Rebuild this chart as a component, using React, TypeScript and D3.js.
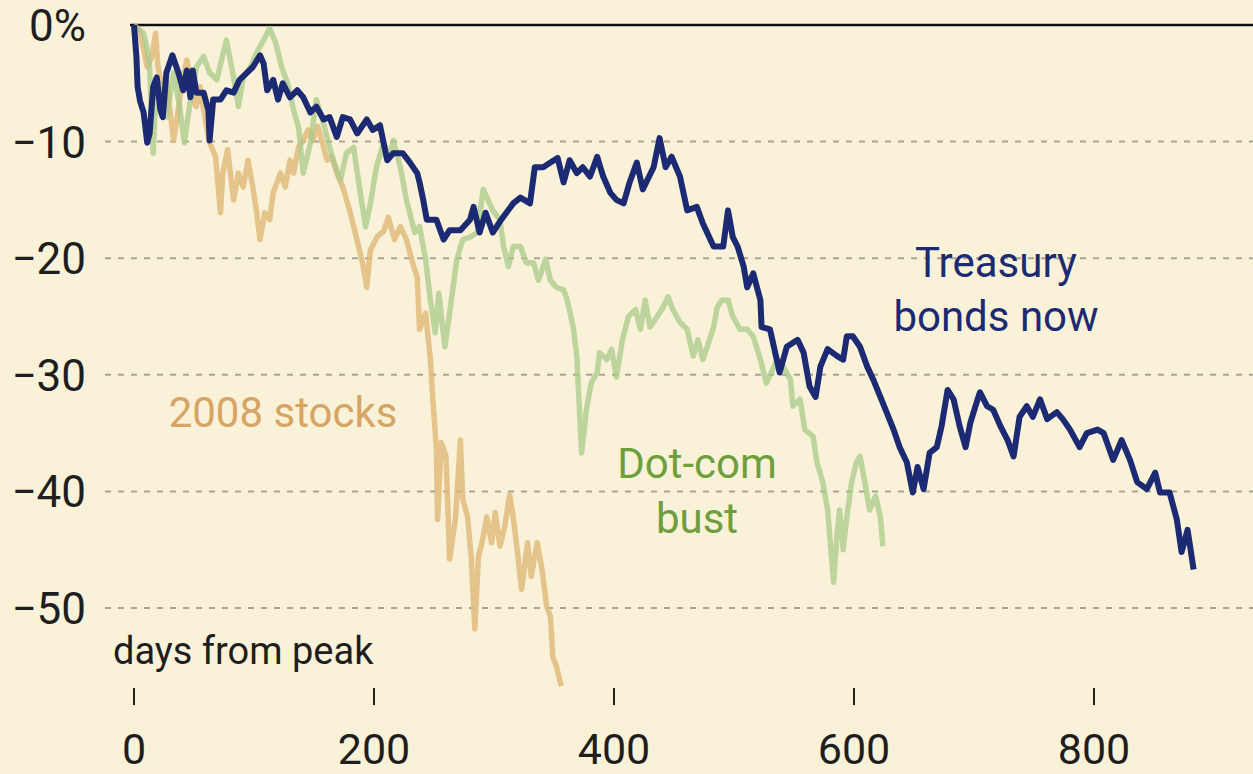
import React from 'react';
import * as d3 from 'd3';

// [days from peak, % change from peak]
const treasury: [number, number][] = [
  [0,0],[2,-2.7],[3,-5.3],[5,-6.5],[8,-7.5],[11,-10.1],[13,-9.3],[16,-5.3],[19,-4.5],[22,-7.3],[24,-7.9],[27,-4.1],[32,-2.6],[37,-4.1],[41,-5.6],[44,-3.9],[47,-6.2],[49,-3.9],[52,-5.8],[58,-5.8],[62,-7.3],[63,-9.9],[66,-6.4],[72,-6.4],[77,-5.6],[83,-5.8],[88,-4.7],[94,-4.1],[99,-3.6],[105,-2.6],[108,-3.3],[111,-5.6],[116,-4.7],[120,-6.4],[124,-5],[130,-6.2],[136,-5.6],[141,-6.2],[147,-7.5],[152,-7],[158,-8.1],[163,-7.9],[169,-9.6],[174,-7.9],[180,-8.1],[186,-9.3],[194,-8.1],[199,-9],[205,-8.6],[211,-11.6],[216,-11],[224,-11],[230,-11.8],[236,-12.7],[238,-13.5],[241,-15],[244,-16.7],[252,-16.7],[258,-18.4],[263,-17.6],[272,-17.6],[280,-16.7],[283,-15.6],[288,-17.8],[293,-16.1],[299,-17.8],[306,-16.7],[316,-15.3],[322,-14.8],[330,-15.3],[334,-12.2],[341,-12.2],[347,-11.8],[353,-11.4],[358,-13.5],[363,-11.6],[369,-12.7],[374,-12.2],[380,-13],[386,-11.3],[391,-13],[397,-14.4],[402,-15],[408,-15.3],[413,-13.5],[419,-11.8],[424,-14.1],[433,-12.2],[438,-9.7],[443,-12.2],[448,-11.3],[455,-13],[461,-15.9],[469,-15.6],[474,-17],[483,-19],[491,-19],[495,-15.9],[499,-18.2],[503,-19],[508,-20.7],[511,-22.5],[516,-21.3],[522,-23.6],[523,-25.9],[530,-26.1],[538,-29.8],[544,-27.6],[553,-27],[558,-28.1],[563,-31],[568,-31.9],[572,-29.3],[578,-27.8],[586,-28.4],[591,-28.7],[594,-26.7],[599,-26.7],[605,-27.6],[611,-29.3],[616,-30.4],[624,-32.4],[633,-34.7],[638,-36.2],[644,-37.5],[649,-40.1],[653,-37.9],[658,-39.8],[663,-36.7],[669,-36.2],[673,-34.4],[678,-31.3],[683,-32.1],[688,-34.4],[693,-36.2],[697,-34.1],[703,-32.1],[705,-31.5],[711,-32.7],[716,-33],[722,-34.4],[728,-35.6],[733,-37],[738,-33.6],[744,-32.7],[749,-33.6],[755,-32.1],[761,-33.8],[769,-33.2],[774,-33.8],[780,-34.7],[788,-36.2],[794,-35],[803,-34.7],[808,-35],[816,-37.3],[823,-35.6],[830,-37.3],[836,-39.2],[844,-39.8],[851,-38.4],[855,-40.1],[863,-40.1],[869,-42.4],[873,-45.2],[878,-43.3],[883,-46.7]
];

const stocks2008: [number, number][] = [
  [0,0],[2,-0.2],[5,-0.7],[8,-2.1],[11,-3.6],[15,-2.7],[18,-0.7],[20,-3.6],[24,-5.8],[27,-5],[30,-7.3],[33,-9.9],[36,-7.9],[40,-5],[44,-3],[47,-4.5],[49,-6.4],[52,-7],[55,-5.3],[59,-7.9],[63,-10.1],[68,-11.3],[72,-16.1],[74,-12.7],[78,-10.7],[83,-15],[87,-12.7],[91,-13.9],[95,-11.6],[99,-13.9],[102,-15.9],[105,-18.4],[109,-16.1],[113,-16.7],[116,-14.4],[122,-12.7],[126,-13.9],[130,-11.6],[133,-12.7],[137,-10.5],[141,-9.9],[145,-9],[149,-9.9],[153,-8.7],[157,-10.1],[161,-11.6],[165,-11.3],[169,-12.7],[174,-13.9],[180,-16],[186,-18.5],[191,-20.7],[194,-22.5],[197,-19.3],[203,-18.1],[208,-17.7],[212,-16.5],[217,-18.4],[222,-17.3],[227,-18.4],[233,-20.7],[236,-21.6],[238,-26.1],[243,-24.7],[247,-28.7],[249,-32.1],[252,-36.4],[253,-42.4],[256,-35.8],[260,-37],[263,-45.8],[268,-42.2],[272,-35.6],[274,-40.7],[278,-42.2],[281,-45.6],[284,-51.8],[287,-45.6],[290,-44.4],[294,-42.2],[298,-44.4],[301,-41.8],[305,-44.7],[309,-43],[313,-40.3],[316,-42.2],[319,-44.7],[323,-48.4],[328,-44.4],[331,-47.3],[336,-44.4],[340,-46.7],[344,-49.9],[347,-50.7],[349,-54.2],[352,-55],[356,-56.7]
];

const dotCom: [number, number][] = [
  [0,0],[3,-0.3],[8,-0.7],[11,-2.1],[13,-3.6],[16,-11],[18,-6.4],[21,-5],[24,-6.7],[27,-7.9],[33,-4.1],[38,-7],[42,-10.1],[47,-6.4],[52,-3.6],[58,-2.7],[63,-4.1],[69,-4.7],[77,-1.3],[83,-4.5],[87,-7],[91,-4.5],[97,-3.6],[102,-2.4],[108,-1.3],[113,-0.3],[118,-1.5],[123,-3.6],[128,-5],[133,-7.3],[137,-8.7],[141,-12.7],[147,-10.1],[152,-6.4],[157,-8.1],[162,-10.1],[166,-11.6],[172,-13.3],[177,-11],[183,-10.5],[188,-14],[193,-17.3],[197,-15.3],[202,-12.2],[208,-10.1],[213,-11.3],[216,-9.9],[222,-12.2],[227,-15],[234,-17.8],[238,-17.3],[243,-20.1],[247,-23.6],[251,-26.4],[254,-23],[259,-27.6],[263,-24.7],[269,-20.1],[274,-18.4],[280,-18.2],[286,-17.8],[291,-14.1],[295,-15],[299,-15.9],[305,-16.7],[308,-19],[312,-20.7],[316,-19],[322,-19],[327,-20.4],[333,-20.4],[337,-21.9],[343,-20.1],[347,-21.9],[352,-22.5],[358,-22.7],[361,-23.6],[366,-25.9],[369,-28.4],[373,-36.7],[377,-33],[381,-30.7],[386,-29.8],[388,-28.1],[394,-28.7],[398,-27.8],[402,-30.2],[407,-27],[412,-25],[418,-24.4],[422,-26.1],[426,-23.6],[430,-25.9],[436,-25],[441,-24.2],[445,-23.3],[449,-24.4],[455,-25.5],[461,-26.1],[466,-28.4],[470,-27],[474,-28.7],[479,-27.2],[483,-25.9],[486,-24.2],[490,-23.6],[495,-23.6],[499,-25],[505,-26.1],[511,-26.1],[516,-26.7],[522,-28.7],[527,-30.7],[532,-29.6],[536,-28.7],[541,-29.3],[547,-30.4],[549,-32.7],[555,-32.1],[559,-34.7],[566,-35.3],[569,-37.5],[574,-39.2],[578,-41.6],[583,-47.8],[586,-43.5],[588,-41.6],[591,-45],[594,-42.2],[598,-39.2],[602,-37.5],[605,-37],[609,-39.2],[613,-41.6],[618,-40.4],[622,-42.2],[624,-44.7]
];

const yTicks = [0, -10, -20, -30, -40, -50];
const xTicks = [0, 200, 400, 600, 800];

const W = 1253;
const H = 774;
const font = 'Roboto, "Noto Sans", sans-serif';

export default function App() {
  const x = d3.scaleLinear().domain([0, 800]).range([134, 1094]);
  const y = d3.scaleLinear().domain([0, -50]).range([25, 608]);
  const line = d3.line<[number, number]>()
    .x(d => x(d[0]))
    .y(d => y(d[1]));

  return (
    <div style={{ position: 'fixed', left: 0, top: 0, width: W, height: H }}>
      <svg width={W} height={H} style={{ display: 'block' }}>
        <rect width={W} height={H} fill="#f9f2d8" />
        {yTicks.filter(t => t !== 0).map(t => (
          <line key={t} x1={105} x2={W} y1={y(t)} y2={y(t)}
            stroke="#a9a496" strokeWidth={2} strokeDasharray="6,7" />
        ))}
        {yTicks.map(t => (
          <text key={'l' + t} x={86} y={y(t) + 16} textAnchor="end"
            fontFamily={font} fontSize={44} fill="#1e1e1e">
            {t === 0 ? '0%' : '\u2212' + Math.abs(t)}
          </text>
        ))}
        <line x1={130} x2={W} y1={y(0)} y2={y(0)} stroke="#111" strokeWidth={2.5} />

        <path d={line(stocks2008) || ''} fill="none" stroke="#e0b878" strokeOpacity={0.8}
          strokeWidth={5.5} strokeLinejoin="round" />
        <path d={line(dotCom) || ''} fill="none" stroke="#a9c98a" strokeOpacity={0.75}
          strokeWidth={5.5} strokeLinejoin="round" />
        <path d={line(treasury) || ''} fill="none" stroke="#1b2a72"
          strokeWidth={6} strokeLinejoin="round" />

        {xTicks.map(t => (
          <g key={'x' + t}>
            <line x1={x(t)} x2={x(t)} y1={688} y2={705} stroke="#222" strokeWidth={2} />
            <text x={x(t)} y={764} textAnchor="middle" fontFamily={font} fontSize={43} fill="#1e1e1e">
              {t}
            </text>
          </g>
        ))}
        <text x={113} y={664} fontFamily={font} fontSize={38} fill="#1e1e1e">days from peak</text>

        <text x={283} y={427} textAnchor="middle" fontFamily={font} fontSize={42} fill="#d7a463">2008 stocks</text>
        <text textAnchor="middle" fontFamily={font} fontSize={42} fill="#6f9f3c">
          <tspan x={697} y={478}>Dot-com</tspan>
          <tspan x={697} y={533}>bust</tspan>
        </text>
        <text textAnchor="middle" fontFamily={font} fontSize={42} fill="#1b2a72">
          <tspan x={996} y={277}>Treasury</tspan>
          <tspan x={996} y={331}>bonds now</tspan>
        </text>
      </svg>
    </div>
  );
}
